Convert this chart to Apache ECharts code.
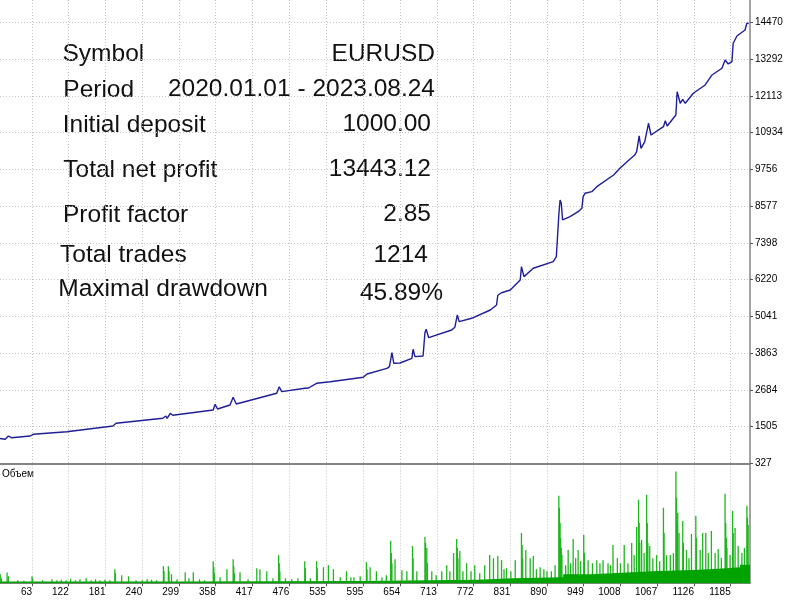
<!DOCTYPE html>
<html><head><meta charset="utf-8">
<script src="https://cdn.jsdelivr.net/npm/echarts@6/dist/echarts.min.js"></script>
<style>html,body{margin:0;padding:0;background:#fff}#c{width:795px;height:600px}</style>
</head><body><div id="c"></div>
<script>
// ---- data ----
const statLabels = ['Symbol', 'Period', 'Initial deposit', 'Total net profit', 'Profit factor', 'Total trades', 'Maximal drawdown'];
const statValues = ['EURUSD', '2020.01.01 - 2023.08.24', '1000.00', '13443.12', '2.85', '1214', '45.89%'];
const yTickLabels = [327, 1505, 2684, 3863, 5041, 6220, 7398, 8577, 9756, 10934, 12113, 13292, 14470];
const xTickLabels = [63, 122, 181, 240, 299, 358, 417, 476, 535, 595, 654, 713, 772, 831, 890, 949, 1008, 1067, 1126, 1185];
const volumeTitle = 'Объем';

// balance curve: [trade #, balance]
const balance = [
  [11,1125],[20,1100],[25,1200],[30,1148],[60,1203],[65,1258],[119,1341],[193,1524],[198,1610],[201,1578],
  [273,1771],[278,1845],[280,1771],[285,1931],[289,1867],[354,2037],[357,2220],[361,2069],[381,2198],[386,2445],
  [391,2230],[456,2573],[460,2785],[464,2625],[501,2734],[503,2785],[507,2743],[520,2894],[523,2830],[542,2945],
  [595,3087],[601,3193],[633,3375],[637,3427],[641,3876],[644,3536],[654,3545],[673,3696],[675,3985],[678,3748],
  [691,3770],[694,4520],[696,4627],[700,4357],[737,4604],[742,4691],[746,5086],[749,4871],[769,4980],[799,5246],
  [809,5406],[811,5720],[817,5800],[831,5888],[847,6209],[849,6637],[853,6316],[868,6584],[900,6796],[905,6956],
  [909,8300],[911,8776],[913,8670],[915,8134],[927,8240],[940,8400],[946,8510],[948,8882],[951,8990],[962,9042],
  [970,9203],[997,9578],[1007,9793],[1023,10082],[1031,10220],[1034,10326],[1038,10830],[1041,10432],[1047,10646],[1053,11237],
  [1057,10861],[1077,11127],[1080,11320],[1083,11150],[1097,11503],[1099,12251],[1104,11878],[1108,12006],[1112,11878],[1125,12199],
  [1144,12466],[1155,12787],[1171,13001],[1176,13268],[1181,13140],[1187,13215],[1189,13804],[1195,14038],[1208,14230],[1211,14445],
  [1214,14443]
];

// regular lot size level: [trade #, lots]
const volumeBase = [
  [11,0.018],[300,0.022],[590,0.035],[779,0.05],[834,0.06],[916,0.09],[962,0.107],[1018,0.123],
  [1068,0.133],[1125,0.15],[1179,0.16],[1200,0.185],[1216,0.185]
];

// larger trades: [trade #, lots]
const volumeSpikes = [
  [12,0.09],[14,0.05],[23,0.107],[25,0.07],[40,0.03],[50,0.025],[63,0.07],[64,0.05],[80,0.03],[95,0.04],
  [103,0.03],[110,0.035],[118,0.03],[125,0.045],[133,0.03],[140,0.04],[150,0.05],[158,0.03],[165,0.04],[172,0.03],
  [180,0.035],[188,0.03],[196,0.14],[197,0.1],[207,0.08],[218,0.07],[230,0.03],[240,0.03],[248,0.04],[255,0.035],
  [263,0.03],[274,0.17],[275,0.12],[282,0.17],[283,0.12],[287,0.09],[296,0.04],[309,0.11],[315,0.05],[322,0.11],
  [332,0.04],[340,0.03],[354,0.22],[355,0.16],[356,0.1],[365,0.06],[376,0.14],[386,0.24],[387,0.17],[388,0.1],
  [397,0.11],[410,0.04],[424,0.15],[429,0.14],[440,0.12],[450,0.05],[459,0.28],[460,0.2],[461,0.12],[470,0.05],
  [480,0.04],[490,0.05],[501,0.22],[502,0.15],[510,0.05],[520,0.22],[521,0.15],[531,0.16],[539,0.18],[547,0.14],
  [558,0.06],[568,0.12],[575,0.06],[580,0.06],[590,0.07],[600,0.21],[601,0.14],[606,0.16],[616,0.12],[625,0.06],
  [632,0.08],[639,0.42],[640,0.3],[641,0.2],[646,0.24],[657,0.13],[665,0.12],[674,0.37],[675,0.25],[681,0.12],
  [694,0.46],[695,0.4],[697,0.35],[698,0.2],[705,0.12],[712,0.08],[721,0.12],[729,0.18],[734,0.12],[740,0.30],
  [745,0.44],[746,0.35],[747,0.25],[750,0.32],[755,0.12],[761,0.20],[768,0.12],[774,0.18],[782,0.10],[790,0.18],
  [798,0.28],[804,0.25],[811,0.27],[817,0.23],[821,0.14],[825,0.15],[832,0.12],[839,0.23],[849,0.50],[850,0.38],
  [851,0.25],[856,0.33],[863,0.25],[868,0.27],[873,0.14],[879,0.16],[885,0.14],[890,0.12],[897,0.12],[903,0.18],
  [909,0.87],[910,0.75],[911,0.60],[912,0.45],[913,0.35],[914,0.28],[920,0.18],[924,0.33],[928,0.2],[932,0.44],
  [936,0.25],[940,0.33],[944,0.22],[949,0.48],[950,0.3],[956,0.23],[963,0.20],[970,0.23],[975,0.2],[980,0.23],
  [988,0.20],[992,0.18],[996,0.38],[1003,0.25],[1008,0.2],[1014,0.38],[1020,0.20],[1026,0.40],[1030,0.28],[1034,0.56],
  [1037,0.83],[1038,0.6],[1039,0.4],[1042,0.43],[1046,0.3],[1050,0.88],[1051,0.6],[1052,0.4],[1055,0.37],[1060,0.25],
  [1066,0.28],[1071,0.22],[1077,0.75],[1078,0.5],[1082,0.28],[1088,0.28],[1093,0.30],[1097,1.11],[1098,0.85],[1099,0.6],
  [1100,0.70],[1102,0.50],[1108,0.62],[1109,0.4],[1114,0.33],[1118,0.25],[1122,0.49],[1129,0.67],[1130,0.45],[1136,0.33],
  [1140,0.50],[1145,0.50],[1149,0.3],[1154,0.52],[1160,0.30],[1165,0.34],[1170,0.25],[1176,0.89],[1177,0.6],[1178,0.45],
  [1179,0.35],[1184,0.28],[1188,0.72],[1189,0.5],[1192,0.55],[1197,0.37],[1203,0.30],[1207,0.35],[1211,0.77],[1212,0.65],
  [1213,0.58]
];

// ---- layout / styling ----
const FONT = '"Liberation Sans", Arial, sans-serif';
const leftPos = [[62.5,54],[63.3,90.5],[62.7,125],[63.3,170],[63,215],[60,255.3],[58.3,289]];
const rightPos = [[435,54.5],[435,89.5],[431,124.5],[431,169.5],[431,214],[428,255.5],[443,293]];
const X_MIN = 11.6, X_MAX = 1216;
const gridLine = { show: true, lineStyle: { color: '#c4c4c4', type: [1, 2], width: 1 } };
const axisGray = '#858585';

const graphics = [];
statLabels.forEach((s, i) => graphics.push({
  type: 'text', x: leftPos[i][0], y: leftPos[i][1], silent: true,
  style: { text: s, fontSize: 24.5, fontFamily: FONT, fill: '#111', align: 'left', verticalAlign: 'middle' }
}));
statValues.forEach((s, i) => graphics.push({
  type: 'text', x: rightPos[i][0], y: rightPos[i][1], silent: true,
  style: { text: s, fontSize: 24.5, fontFamily: FONT, fill: '#111', align: 'right', verticalAlign: 'middle' }
}));
graphics.push({
  type: 'text', x: 2, y: 474, silent: true,
  style: { text: volumeTitle, fontSize: 10, fontFamily: FONT, fill: '#000', align: 'left', verticalAlign: 'middle' }
});

const chart = echarts.init(document.getElementById('c'), null, { renderer: 'canvas' });
chart.setOption({
  animation: false,
  backgroundColor: '#fff',
  grid: [
    { left: 0, right: 45, top: 0, bottom: 136.7 },
    { left: 0, right: 45, top: 464.5, bottom: 16.7 }
  ],
  xAxis: [
    {
      type: 'value', gridIndex: 0, min: X_MIN, max: X_MAX,
      axisLine: { show: true, onZero: false, lineStyle: { color: axisGray, width: 2 } },
      axisTick: { show: false, customValues: xTickLabels },
      axisLabel: { show: false, customValues: xTickLabels },
      splitLine: gridLine
    },
    {
      type: 'value', gridIndex: 1, min: X_MIN, max: X_MAX,
      axisLine: { show: true, onZero: false, lineStyle: { color: axisGray, width: 1 } },
      axisTick: { show: true, length: 3, customValues: xTickLabels, lineStyle: { color: '#555' } },
      axisLabel: {
        show: true, customValues: xTickLabels, align: 'right', margin: 4,
        fontSize: 10, fontFamily: FONT, color: '#000',
        formatter: v => String(v)
      },
      splitLine: gridLine
    }
  ],
  yAxis: [
    {
      type: 'value', gridIndex: 0, position: 'right', min: 327, max: 15192,
      axisLine: { show: true, lineStyle: { color: axisGray, width: 1.5 } },
      axisTick: { show: true, length: 3, customValues: yTickLabels, lineStyle: { color: '#555' } },
      axisLabel: {
        show: true, customValues: yTickLabels, margin: 5,
        fontSize: 10, fontFamily: FONT, color: '#000',
        formatter: v => String(v)
      },
      splitLine: gridLine
    },
    {
      type: 'value', gridIndex: 1, position: 'right', min: 0, max: 1.18,
      axisLine: { show: true, lineStyle: { color: axisGray, width: 1.5 } },
      axisTick: { show: false }, axisLabel: { show: false }, splitLine: { show: false }
    }
  ],
  series: [
    {
      name: 'Balance', type: 'line', xAxisIndex: 0, yAxisIndex: 0,
      data: balance, showSymbol: false, symbol: 'none', clip: true,
      lineStyle: { color: '#1e1e96', width: 1.4 }
    },
    {
      name: 'Volume base', type: 'line', xAxisIndex: 1, yAxisIndex: 1,
      data: volumeBase, step: 'end', showSymbol: false, symbol: 'none', clip: true,
      lineStyle: { width: 0 }, areaStyle: { color: '#00a300', opacity: 1 }
    },
    {
      name: 'Volume', type: 'bar', xAxisIndex: 1, yAxisIndex: 1,
      data: volumeSpikes, barWidth: 1.3, barGap: 0,
      itemStyle: { color: '#1fb51f' }
    }
  ],
  graphic: graphics
});
</script>
</body></html>
